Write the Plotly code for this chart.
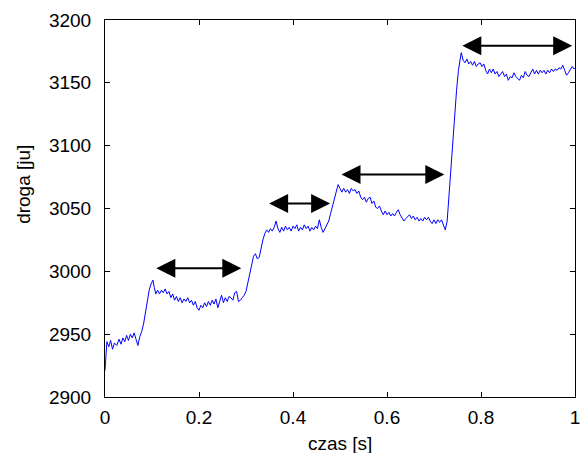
import plotly.graph_objects as go

# time [s] and distance values
czas = [0.000, 0.002, 0.004, 0.008, 0.012, 0.016, 0.020, 0.025, 0.030, 0.034,
        0.038, 0.042, 0.046, 0.050, 0.054, 0.058, 0.062, 0.066, 0.070, 0.074,
        0.078, 0.082, 0.086, 0.090, 0.094, 0.098, 0.102, 0.105, 0.108, 0.112,
        0.116, 0.120, 0.124, 0.128, 0.132, 0.136, 0.140, 0.144, 0.148, 0.152,
        0.156, 0.160, 0.164, 0.168, 0.172, 0.176, 0.180, 0.184, 0.188, 0.192,
        0.196, 0.200, 0.204, 0.208, 0.212, 0.216, 0.220, 0.224, 0.228, 0.232,
        0.236, 0.240, 0.244, 0.248, 0.252, 0.256, 0.260, 0.264, 0.268, 0.272,
        0.276, 0.280, 0.284, 0.288, 0.292, 0.296, 0.300, 0.304, 0.308, 0.312,
        0.316, 0.320, 0.324, 0.328, 0.332, 0.336, 0.340, 0.344, 0.348, 0.352,
        0.356, 0.360, 0.364, 0.368, 0.372, 0.376, 0.380, 0.384, 0.388, 0.392,
        0.396, 0.400, 0.404, 0.408, 0.412, 0.416, 0.420, 0.424, 0.428, 0.432,
        0.436, 0.440, 0.444, 0.448, 0.452, 0.456, 0.460, 0.464, 0.468, 0.472,
        0.476, 0.480, 0.484, 0.488, 0.492, 0.496, 0.500, 0.504, 0.508, 0.512,
        0.516, 0.520, 0.524, 0.528, 0.532, 0.536, 0.540, 0.544, 0.548, 0.552,
        0.556, 0.560, 0.564, 0.568, 0.572, 0.576, 0.580, 0.584, 0.588, 0.592,
        0.596, 0.600, 0.604, 0.608, 0.612, 0.616, 0.620, 0.624, 0.628, 0.632,
        0.636, 0.640, 0.644, 0.648, 0.652, 0.656, 0.660, 0.664, 0.668, 0.672,
        0.676, 0.680, 0.684, 0.688, 0.692, 0.696, 0.700, 0.704, 0.708, 0.712,
        0.716, 0.720, 0.724, 0.728, 0.732, 0.736, 0.740, 0.744, 0.748, 0.752,
        0.756, 0.758, 0.762, 0.766, 0.770, 0.774, 0.778, 0.782, 0.786, 0.790,
        0.794, 0.798, 0.802, 0.806, 0.810, 0.814, 0.818, 0.822, 0.826, 0.830,
        0.834, 0.838, 0.842, 0.846, 0.850, 0.854, 0.858, 0.862, 0.866, 0.870,
        0.874, 0.878, 0.882, 0.886, 0.890, 0.894, 0.898, 0.902, 0.906, 0.910,
        0.914, 0.918, 0.922, 0.926, 0.930, 0.934, 0.938, 0.942, 0.946, 0.950,
        0.954, 0.958, 0.962, 0.966, 0.970, 0.974, 0.978, 0.982, 0.986, 0.990,
        0.994, 0.998, 1.000]

droga = [2921, 2935, 2944, 2940, 2945, 2938, 2943, 2941, 2946, 2942,
         2947, 2944, 2949, 2945, 2950, 2947, 2951, 2946, 2941, 2948,
         2952, 2958, 2968, 2978, 2985, 2990, 2993, 2987, 2982, 2985,
         2982, 2985, 2983, 2986, 2982, 2984, 2979, 2982, 2977, 2980,
         2976, 2979, 2975, 2978, 2976, 2979, 2975, 2977, 2973, 2976,
         2971, 2969, 2973, 2971, 2975, 2972, 2976, 2973, 2977, 2974,
         2978, 2971, 2977, 2981, 2975, 2979, 2976, 2980, 2979, 2977,
         2983, 2984, 2976, 2977, 2979, 2981, 2984, 2991, 3000, 3006,
         3012, 3014, 3010, 3011, 3019, 3025, 3030, 3033, 3031, 3034,
         3032, 3035, 3040, 3034, 3031, 3035, 3032, 3036, 3033, 3035,
         3032, 3036, 3034, 3037, 3032, 3035, 3033, 3037, 3034, 3036,
         3032, 3035, 3033, 3036, 3034, 3041, 3035, 3031, 3034, 3037,
         3040, 3046, 3052, 3057, 3062, 3069, 3066, 3063, 3066, 3063,
         3065, 3062, 3066, 3064, 3065, 3062, 3064, 3059, 3057, 3059,
         3055, 3058, 3059, 3054, 3056, 3051, 3050, 3052, 3048, 3045,
         3048, 3045, 3047, 3044, 3046, 3044, 3047, 3049, 3045, 3043,
         3040, 3042, 3044, 3045, 3042, 3044, 3041, 3043, 3040, 3042,
         3040, 3043, 3041, 3043, 3040, 3038, 3041, 3038, 3041, 3039,
         3041, 3036, 3033, 3040, 3062, 3082, 3104, 3125, 3144, 3160,
         3171, 3174, 3168, 3166, 3169, 3165, 3167, 3164, 3167, 3163,
         3165, 3166, 3163, 3165, 3160, 3157, 3161, 3158, 3161, 3157,
         3159, 3155, 3157, 3159, 3155, 3157, 3152, 3155, 3154, 3158,
         3155, 3153, 3152, 3156, 3154, 3159, 3156, 3155, 3158, 3161,
         3157, 3160, 3157, 3160, 3158, 3160, 3157, 3160, 3158, 3161,
         3159, 3161, 3160, 3162, 3161, 3164, 3160, 3156, 3158, 3161,
         3163, 3161, 3162]

# double-headed arrows marking the plateaus: start time, end time, level
strzalki_od = [0.106, 0.346, 0.500, 0.757]
strzalki_do = [0.290, 0.479, 0.722, 0.994]
strzalki_y = [3002.5, 3054, 3077, 3179.5]

x_ticks = [0, 0.2, 0.4, 0.6, 0.8, 1]
x_tick_labels = ["0", "0.2", "0.4", "0.6", "0.8", "1"]
y_ticks = [2900, 2950, 3000, 3050, 3100, 3150, 3200]

FONT = "Arial, Liberation Sans, sans-serif"

fig = go.Figure()
fig.add_trace(go.Scatter(x=czas, y=droga, mode="lines",
                         line=dict(color="#0000ff", width=1),
                         showlegend=False, hoverinfo="skip"))

annotations = []
for a, b, yv in zip(strzalki_od, strzalki_do, strzalki_y):
    annotations.append(dict(
        x=b, y=yv, ax=a, ay=yv, xref="x", yref="y", axref="x", ayref="y",
        text="", showarrow=True, arrowside="end+start", arrowhead=2,
        arrowwidth=2, arrowsize=1.9, arrowcolor="black"))

annotations.append(dict(text="droga [ju]", xref="paper", yref="paper",
                        x=-0.1726, y=0.565, textangle=-90, showarrow=False,
                        xanchor="center", yanchor="middle",
                        font=dict(family=FONT, size=19, color="black")))
annotations.append(dict(text="czas [s]", xref="paper", yref="paper",
                        x=0.5, y=-0.09, showarrow=False,
                        xanchor="center", yanchor="top",
                        font=dict(family=FONT, size=19, color="black")))

fig.update_layout(
    width=586, height=453,
    margin=dict(l=105, r=6, t=20, b=56),
    paper_bgcolor="white", plot_bgcolor="white",
    font=dict(family=FONT, size=19, color="black"),
    annotations=annotations,
    xaxis=dict(range=[0, 1], tickvals=x_ticks, ticktext=x_tick_labels,
               showgrid=False, zeroline=False, showline=True,
               linecolor="black", linewidth=1, mirror="ticks",
               ticks="inside", ticklen=5, tickcolor="black",
               ticklabelstandoff=3, ticklabeloverflow="allow"),
    yaxis=dict(range=[2900, 3200], tickvals=y_ticks,
               showgrid=False, zeroline=False, showline=True,
               linecolor="black", linewidth=1, mirror="ticks",
               ticks="inside", ticklen=5, tickcolor="black",
               ticklabelstandoff=9, ticklabeloverflow="allow"),
)

fig.write_html("out.html",
               config={"displayModeBar": False},
               post_script="document.body.style.margin='0';"
                           "document.body.style.overflow='hidden';")
